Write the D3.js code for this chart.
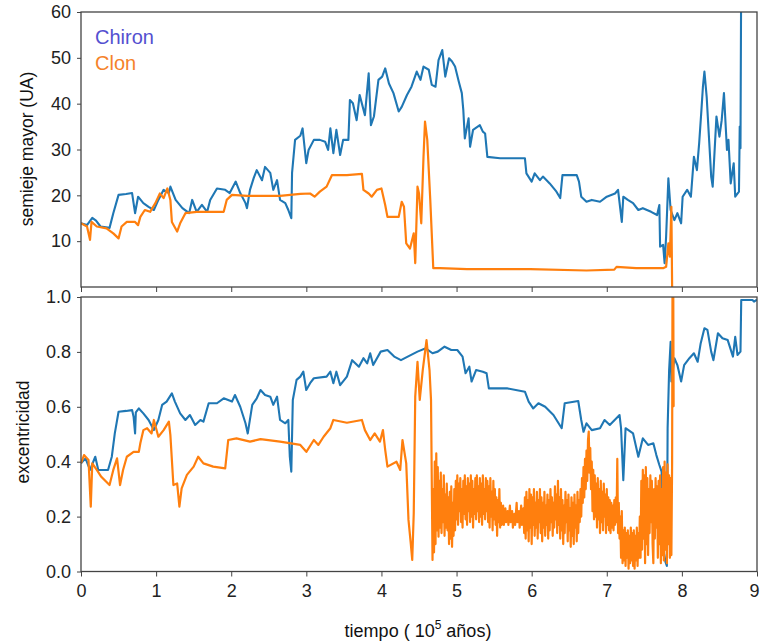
<!DOCTYPE html>
<html><head><meta charset="utf-8">
<script src="https://cdn.jsdelivr.net/npm/d3@7"></script>
<style>
html,body{margin:0;padding:0;background:#fff;}
svg{display:block;font-family:"Liberation Sans",Arial,sans-serif;}
</style></head>
<body><svg id="c" width="761" height="644"></svg>
<script>
// ---- data ----
const xTicks = [0,1,2,3,4,5,6,7,8,9];
const aTicks = [10,20,30,40,50,60];
const eTicks = [0,0.2,0.4,0.6,0.8,1.0];
const seriesNames = ["Chiron","Clon"];

// semieje mayor (UA), [tiempo, valor]
const chironA = [[0,13.9],[0.08,13.5],[0.15,15.1],[0.2,14.5],[0.26,13.2],[0.38,12.9],[0.43,16.1],[0.5,20.1],[0.6,20.3],[0.68,20.5],[0.72,16.1],[0.76,19.7],[0.83,18.3],[0.9,17.5],[0.97,16.8],[1.03,19.0],[1.1,21.2],[1.17,20.5],[1.19,21.9],[1.26,19.0],[1.35,17.2],[1.44,16.1],[1.48,19.0],[1.54,16.4],[1.61,17.9],[1.68,16.4],[1.72,19.0],[1.81,21.5],[1.92,21.2],[1.98,20.5],[2.06,23.0],[2.12,20.5],[2.19,18.3],[2.21,17.2],[2.25,21.2],[2.3,23.8],[2.34,25.5],[2.41,23.3],[2.45,26.2],[2.52,24.9],[2.56,21.2],[2.61,23.3],[2.65,19.0],[2.72,18.3],[2.76,16.8],[2.8,15.0],[2.81,24.9],[2.85,32.1],[2.92,33.0],[2.95,34.6],[2.999,27.0],[3.03,29.9],[3.1,32.1],[3.18,32.1],[3.25,31.7],[3.29,29.9],[3.32,34.6],[3.36,29.2],[3.4,34.3],[3.45,28.8],[3.49,32.1],[3.56,32.1],[3.58,40.8],[3.62,40.1],[3.67,36.4],[3.71,41.9],[3.78,37.5],[3.83,46.6],[3.86,35.3],[3.9,37.2],[3.96,45.2],[4.01,45.9],[4.05,47.7],[4.1,44.4],[4.16,42.3],[4.23,38.3],[4.27,39.3],[4.34,41.9],[4.4,43.7],[4.47,47.0],[4.52,45.2],[4.56,48.1],[4.63,47.4],[4.67,44.1],[4.72,43.7],[4.76,49.5],[4.81,51.7],[4.85,45.9],[4.9,49.9],[4.94,49.2],[4.98,48.1],[5.03,44.8],[5.07,42.3],[5.09,38.6],[5.11,32.4],[5.16,36.8],[5.18,30.6],[5.22,34.3],[5.31,35.3],[5.35,33.9],[5.38,33.5],[5.41,28.4],[5.58,28.1],[5.76,28.1],[5.91,28.1],[5.93,24.8],[6.0,23.0],[6.04,24.8],[6.11,23.3],[6.15,24.1],[6.24,22.6],[6.33,20.8],[6.38,19.4],[6.41,24.4],[6.6,24.4],[6.63,23.0],[6.66,19.7],[6.73,18.6],[6.8,19.0],[6.91,18.6],[7.0,19.7],[7.11,20.4],[7.15,21.2],[7.2,14.2],[7.22,19.7],[7.28,19.0],[7.35,18.3],[7.42,16.8],[7.48,17.2],[7.59,16.4],[7.67,15.7],[7.7,17.9],[7.71,8.8],[7.75,9.2],[7.77,5.2],[7.79,11.0],[7.82,23.7],[7.85,16.8],[7.9,14.6],[7.94,16.1],[7.99,13.9],[8.01,19.7],[8.07,21.2],[8.12,19.7],[8.16,28.4],[8.2,25.5],[8.23,31.4],[8.26,38.6],[8.28,43.7],[8.3,47.0],[8.33,41.5],[8.36,32.8],[8.39,24.1],[8.41,21.9],[8.46,37.2],[8.5,32.8],[8.53,36.4],[8.56,42.3],[8.6,29.9],[8.62,32.1],[8.65,22.6],[8.69,27.0],[8.71,19.7],[8.76,20.8],[8.77,35.0],[8.78,30.3],[8.79,70],[9,200]];
const clonA = [[0,13.9],[0.08,13.2],[0.12,10.3],[0.14,14.2],[0.21,13.2],[0.34,12.8],[0.43,11.7],[0.5,10.6],[0.54,13.2],[0.61,14.2],[0.72,14.2],[0.76,13.5],[0.79,15.3],[0.85,16.8],[0.92,16.4],[0.99,18.3],[1.05,20.4],[1.1,19.4],[1.15,21.5],[1.19,19.0],[1.21,14.2],[1.28,12.1],[1.32,13.9],[1.39,16.1],[1.54,16.4],[1.9,16.4],[1.94,19.0],[2.01,20.1],[2.21,19.9],[2.65,19.9],[2.92,20.3],[3.05,20.4],[3.11,19.7],[3.18,20.8],[3.27,21.9],[3.34,24.4],[3.54,24.4],[3.74,24.7],[3.76,21.2],[3.83,20.4],[3.87,19.7],[3.94,21.2],[4.0,21.5],[4.05,17.9],[4.08,15.3],[4.23,15.3],[4.27,18.6],[4.3,17.5],[4.33,9.5],[4.38,8.4],[4.43,11.7],[4.45,5.2],[4.48,21.9],[4.5,20.4],[4.53,13.9],[4.56,28.4],[4.58,36.1],[4.61,32.1],[4.65,19.0],[4.69,4.1],[4.78,4.1],[5.14,3.9],[5.98,3.9],[6.73,3.6],[7.1,3.8],[7.13,4.4],[7.39,4.1],[7.75,4.1],[7.79,4.4],[7.82,9.5],[7.84,6.6],[7.86,17.5],[7.87,0],[7.88,-2]];

// excentricidad, [tiempo, valor]
const chironE = [[0,0.394],[0.06,0.412],[0.12,0.37],[0.19,0.418],[0.23,0.37],[0.36,0.37],[0.41,0.418],[0.45,0.503],[0.5,0.582],[0.6,0.585],[0.68,0.588],[0.7,0.564],[0.72,0.503],[0.73,0.58],[0.77,0.594],[0.83,0.576],[0.9,0.552],[0.97,0.515],[1.03,0.552],[1.08,0.607],[1.14,0.619],[1.21,0.649],[1.25,0.619],[1.32,0.576],[1.39,0.552],[1.45,0.570],[1.52,0.534],[1.59,0.552],[1.63,0.546],[1.7,0.613],[1.81,0.613],[1.9,0.631],[2.01,0.619],[2.05,0.643],[2.12,0.6],[2.19,0.54],[2.22,0.503],[2.28,0.607],[2.34,0.631],[2.39,0.661],[2.45,0.643],[2.52,0.637],[2.56,0.607],[2.61,0.637],[2.65,0.552],[2.72,0.54],[2.76,0.552],[2.78,0.418],[2.8,0.364],[2.82,0.625],[2.87,0.698],[2.92,0.71],[2.96,0.728],[2.999,0.661],[3.05,0.686],[3.1,0.704],[3.27,0.71],[3.32,0.728],[3.36,0.686],[3.4,0.728],[3.45,0.679],[3.54,0.71],[3.61,0.77],[3.7,0.746],[3.76,0.777],[3.81,0.758],[3.85,0.795],[3.89,0.752],[3.99,0.801],[4.08,0.807],[4.17,0.783],[4.26,0.77],[4.35,0.783],[4.48,0.801],[4.59,0.813],[4.68,0.795],[4.75,0.801],[4.84,0.819],[4.93,0.807],[5.01,0.807],[5.08,0.783],[5.12,0.722],[5.17,0.746],[5.2,0.692],[5.26,0.734],[5.35,0.728],[5.4,0.722],[5.43,0.667],[5.68,0.667],[5.91,0.655],[5.96,0.619],[6.02,0.594],[6.09,0.613],[6.18,0.6],[6.29,0.57],[6.4,0.522],[6.44,0.613],[6.62,0.621],[6.66,0.552],[6.69,0.509],[6.73,0.54],[6.8,0.515],[6.91,0.522],[6.97,0.552],[7.04,0.534],[7.17,0.57],[7.19,0.522],[7.22,0.333],[7.25,0.522],[7.35,0.503],[7.42,0.418],[7.48,0.485],[7.55,0.461],[7.62,0.467],[7.66,0.424],[7.7,0.388],[7.73,0.364],[7.75,0.085],[7.78,0.036],[7.8,0.02],[7.81,0.522],[7.83,0.734],[7.85,0.837],[7.86,0.692],[7.9,0.777],[7.94,0.752],[7.99,0.692],[8.03,0.752],[8.1,0.777],[8.16,0.795],[8.21,0.764],[8.25,0.831],[8.3,0.886],[8.34,0.88],[8.39,0.801],[8.42,0.77],[8.48,0.868],[8.54,0.85],[8.61,0.843],[8.68,0.783],[8.71,0.855],[8.74,0.789],[8.78,0.801],[8.79,0.989],[8.94,0.989],[8.96,0.983],[9.0,0.99]];
const clonE = [[0,0.394],[0.04,0.424],[0.1,0.406],[0.13,0.236],[0.15,0.394],[0.21,0.37],[0.27,0.345],[0.38,0.315],[0.43,0.37],[0.48,0.412],[0.52,0.315],[0.56,0.37],[0.61,0.418],[0.7,0.436],[0.77,0.436],[0.79,0.467],[0.83,0.515],[0.88,0.522],[0.94,0.503],[0.97,0.552],[1.03,0.491],[1.1,0.515],[1.17,0.546],[1.19,0.497],[1.21,0.406],[1.23,0.315],[1.28,0.321],[1.31,0.236],[1.34,0.303],[1.41,0.352],[1.5,0.382],[1.56,0.418],[1.63,0.394],[1.76,0.382],[1.92,0.376],[1.96,0.479],[2.07,0.485],[2.25,0.473],[2.39,0.482],[2.65,0.473],[2.92,0.461],[3.0,0.436],[3.1,0.479],[3.16,0.461],[3.23,0.491],[3.32,0.522],[3.36,0.552],[3.54,0.542],[3.74,0.552],[3.78,0.515],[3.85,0.479],[3.91,0.503],[3.98,0.473],[4.02,0.515],[4.05,0.443],[4.08,0.382],[4.2,0.4],[4.25,0.37],[4.28,0.479],[4.33,0.394],[4.36,0.188],[4.39,0.103],[4.41,0.042],[4.43,0.212],[4.45,0.637],[4.48,0.764],[4.51,0.625],[4.55,0.734],[4.6,0.843],[4.64,0.734],[4.66,0.625],[4.68,0.042],
[4.69,0.30],[4.70,0.07],[4.71,0.40],[4.72,0.10],[4.73,0.43],[4.74,0.15],[4.75,0.38],[4.76,0.127],[4.77,0.33],[4.78,0.16],[4.79,0.36],[4.80,0.14],[4.81,0.30],[4.82,0.18],[4.83,0.35],[4.84,0.13],[4.85,0.28],[4.86,0.16],[4.87,0.32],[4.88,0.15],[4.89,0.27],[4.90,0.10],[4.91,0.29],[4.92,0.12],[4.93,0.31],[4.94,0.09],[4.95,0.25],[4.96,0.13],[4.97,0.30],[4.98,0.15],
[4.99,0.33],[5.00,0.19],[5.01,0.35],[5.02,0.17],[5.03,0.32],[5.04,0.22],[5.05,0.34],[5.06,0.18],[5.07,0.30],[5.08,0.16],[5.09,0.33],[5.10,0.21],[5.11,0.35],[5.12,0.19],[5.13,0.31],[5.14,0.17],[5.15,0.34],[5.16,0.22],[5.17,0.32],[5.18,0.18],[5.19,0.35],[5.20,0.20],[5.21,0.33],[5.22,0.16],[5.23,0.30],[5.24,0.21],[5.25,0.34],[5.26,0.19],[5.27,0.35],[5.28,0.22],[5.29,0.31],[5.30,0.18],[5.31,0.34],[5.32,0.20],[5.33,0.32],[5.34,0.17],[5.35,0.35],[5.36,0.21],[5.37,0.30],[5.38,0.19],[5.39,0.34],[5.40,0.22],[5.41,0.33],[5.42,0.18],[5.43,0.31],[5.44,0.16],[5.45,0.34],[5.46,0.20],[5.47,0.29],[5.48,0.15],[5.49,0.33],[5.50,0.19],[5.51,0.30],[5.52,0.17],[5.53,0.27],[5.54,0.13],[5.55,0.26],[5.56,0.18],[5.57,0.30],[5.58,0.16],[5.59,0.25],[5.60,0.17],
[5.62,0.24],[5.63,0.17],[5.65,0.23],[5.66,0.18],[5.68,0.22],[5.69,0.17],[5.71,0.24],[5.72,0.18],[5.74,0.22],[5.75,0.16],[5.77,0.21],[5.78,0.17],[5.80,0.25],[5.81,0.18],[5.83,0.22],[5.84,0.16],[5.86,0.24],[5.87,0.17],[5.89,0.23],
[5.90,0.14],[5.91,0.27],[5.92,0.12],[5.93,0.29],[5.94,0.15],[5.95,0.26],[5.96,0.11],[5.97,0.30],[5.98,0.16],[5.99,0.28],[6.00,0.10],[6.01,0.27],[6.02,0.17],[6.03,0.30],[6.04,0.13],[6.05,0.25],[6.06,0.16],[6.07,0.29],[6.08,0.12],[6.09,0.26],[6.10,0.18],[6.11,0.30],[6.12,0.14],[6.13,0.27],[6.14,0.11],[6.15,0.25],[6.16,0.16],[6.17,0.29],[6.18,0.13],[6.19,0.24],[6.20,0.17],[6.21,0.28],[6.22,0.12],[6.23,0.26],[6.24,0.15],[6.25,0.30],[6.26,0.18],[6.27,0.27],[6.28,0.13],[6.29,0.25],[6.30,0.16],[6.31,0.31],[6.32,0.19],[6.33,0.28],[6.34,0.14],[6.35,0.33],[6.36,0.17],[6.37,0.27],[6.38,0.12],[6.39,0.30],[6.40,0.15],[6.41,0.26],[6.42,0.10],
[6.43,0.24],[6.44,0.14],[6.45,0.29],[6.46,0.18],[6.47,0.26],[6.48,0.11],[6.49,0.28],[6.50,0.15],[6.51,0.23],[6.52,0.09],[6.53,0.27],[6.54,0.13],[6.55,0.25],[6.56,0.10],[6.57,0.28],[6.58,0.16],[6.59,0.24],[6.60,0.11],[6.61,0.29],[6.62,0.14],[6.63,0.26],[6.64,0.18],[6.65,0.30],
[6.66,0.20],[6.67,0.34],[6.68,0.25],[6.69,0.38],[6.70,0.27],[6.71,0.41],[6.72,0.30],[6.73,0.44],[6.74,0.33],[6.75,0.48],[6.76,0.51],[6.77,0.36],[6.78,0.45],[6.79,0.30],[6.80,0.40],[6.81,0.22],[6.82,0.37],[6.83,0.19],
[6.84,0.35],[6.85,0.20],[6.86,0.32],[6.87,0.16],[6.88,0.34],[6.89,0.19],[6.90,0.30],[6.91,0.14],[6.92,0.33],[6.93,0.18],[6.94,0.29],[6.95,0.15],[6.96,0.32],[6.97,0.20],[6.98,0.28],[6.99,0.14],[7.00,0.30],[7.01,0.17],[7.02,0.27],[7.03,0.15],[7.04,0.26],
[7.05,0.14],[7.06,0.25],[7.07,0.16],[7.08,0.24],[7.09,0.15],[7.10,0.26],[7.11,0.17],[7.12,0.27],[7.13,0.18],[7.14,0.41],[7.15,0.14],[7.16,0.25],[7.17,0.12],[7.18,0.20],
[7.19,0.05],[7.20,0.22],[7.21,0.03],[7.22,0.15],[7.23,0.04],[7.24,0.16],[7.25,0.02],[7.26,0.14],[7.27,0.05],[7.28,0.15],[7.29,0.01],[7.30,0.13],[7.31,0.03],[7.32,0.16],[7.33,0.04],[7.34,0.14],[7.35,0.02],[7.36,0.15],[7.37,0.01],[7.38,0.13],[7.39,0.04],[7.40,0.16],[7.41,0.02],[7.42,0.14],[7.43,0.05],[7.44,0.20],
[7.45,0.05],[7.46,0.33],[7.47,0.08],[7.48,0.37],[7.49,0.12],[7.50,0.35],[7.51,0.03],[7.52,0.38],[7.53,0.10],[7.54,0.34],[7.55,0.06],[7.56,0.30],
[7.57,0.14],[7.58,0.35],[7.59,0.18],[7.60,0.33],[7.61,0.10],[7.62,0.03],[7.63,0.30],[7.64,0.12],[7.65,0.34],[7.66,0.16],[7.67,0.31],
[7.68,0.05],[7.69,0.33],[7.70,0.10],[7.71,0.35],[7.72,0.03],[7.73,0.30],
[7.74,0.06],[7.75,0.38],[7.76,0.04],[7.77,0.40],[7.78,0.08],[7.79,0.36],[7.80,0.03],[7.81,0.39],[7.82,0.10],[7.83,0.35],[7.84,0.05],[7.85,0.34],[7.86,0.06],[7.87,0.4],[7.875,1.05],[7.88,0.6],[7.885,1.05],[7.89,0.6]];

// ---- drawing ----
const svg = d3.select("#c");
const FONT = '"Liberation Sans",Arial,sans-serif';
const blue = "#1f77b4", orange = "#ff7f0e";
const x = d3.scaleLinear().domain([0,9]).range([81,757]);
const yA = d3.scaleLinear().domain([0,60]).range([287,12]);
const yE = d3.scaleLinear().domain([0,1]).range([571.5,297]);

const defs = svg.append("defs");
defs.append("clipPath").attr("id","clipA").append("rect").attr("x",81).attr("y",12).attr("width",676).attr("height",275);
defs.append("clipPath").attr("id","clipE").append("rect").attr("x",81).attr("y",297).attr("width",676).attr("height",274.5);

function panel(yScale, ticks, fmt, clipId, sA, sB, bottom) {
  const g = svg.append("g");
  const [y0,y1] = yScale.range();
  const line = d3.line().x(d=>x(d[0])).y(d=>yScale(d[1]));
  const cg = g.append("g").attr("clip-path",`url(#${clipId})`);
  cg.append("path").datum(sA).attr("d",line).attr("fill","none").attr("stroke",blue).attr("stroke-width",2.1).attr("stroke-linejoin","round");
  cg.append("path").datum(sB).attr("d",line).attr("fill","none").attr("stroke",orange).attr("stroke-width",2.2).attr("stroke-linejoin","round");
  g.append("rect").attr("x",81).attr("y",y1).attr("width",676).attr("height",y0-y1)
    .attr("fill","none").attr("stroke","#444").attr("stroke-width",1.3);
  const ya = d3.axisLeft(yScale).tickValues(ticks).tickFormat(fmt).tickSize(4).tickPadding(6);
  const yg = g.append("g").attr("transform","translate(81,0)").call(ya);
  yg.select(".domain").remove();
  yg.selectAll(".tick line").attr("stroke","#444");
  yg.selectAll("text").attr("font-family",FONT).attr("font-size",18).attr("fill","#222");
  const xa = d3.axisBottom(x).tickValues(xTicks).tickSize(5).tickPadding(8).tickFormat(bottom ? d3.format("d") : "");
  const xg = g.append("g").attr("transform",`translate(0,${y0})`).call(xa);
  xg.select(".domain").remove();
  xg.selectAll(".tick line").attr("stroke","#444");
  xg.selectAll("text").attr("font-family",FONT).attr("font-size",18).attr("fill","#222")
    .attr("dx", d => d === 9 ? -3 : 0);
  return g;
}

panel(yA, aTicks, d3.format("d"), "clipA", chironA, clonA, false);
panel(yE, eTicks, d3.format(".1f"), "clipE", chironE, clonE, true);

// axis titles
svg.append("text").attr("transform","translate(33,149) rotate(-90)").attr("text-anchor","middle")
  .attr("font-family",FONT).attr("font-size",17.5).attr("fill","#111").text("semieje mayor (UA)");
svg.append("text").attr("transform","translate(29,432) rotate(-90)").attr("text-anchor","middle")
  .attr("font-family",FONT).attr("font-size",17.5).attr("fill","#111").text("excentricidad");
const xt = svg.append("text").attr("x",418).attr("y",637).attr("text-anchor","middle")
  .attr("font-family",FONT).attr("font-size",18).attr("fill","#111");
xt.append("tspan").text("tiempo ( 10");
xt.append("tspan").attr("dy",-8).attr("font-size",12).text("5");
xt.append("tspan").attr("dy",8).text(" años)");

// legend
const legColors = ["#5450d0", "#f5822a"];
seriesNames.forEach((n,i)=>{
  svg.append("text").attr("x",95).attr("y",44+i*26).attr("font-family",FONT).attr("font-size",20)
    .attr("fill",legColors[i]).text(n);
});
</script></body></html>
